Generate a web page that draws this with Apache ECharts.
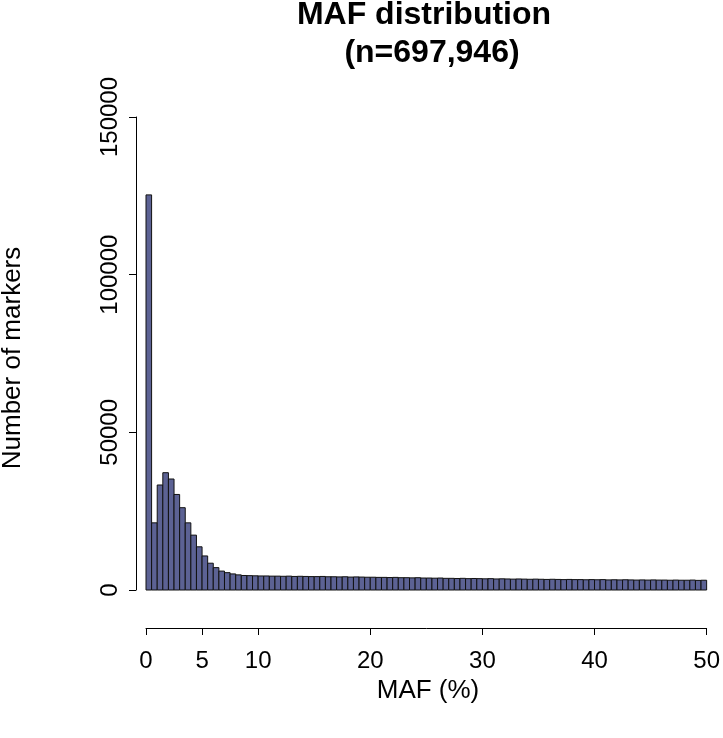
<!DOCTYPE html>
<html>
<head>
<meta charset="utf-8">
<script src="https://cdn.jsdelivr.net/npm/echarts@6/dist/echarts.min.js"></script>
<style>
html,body{margin:0;padding:0;background:#fff;}
#c{width:723px;height:738px;}
</style>
</head>
<body>
<div id="c"></div>
<script>
// Histogram of MAF (%), bins of width 0.5 from 0 to 50
var binWidth = 0.5;
var counts = [
  125300, 21300, 33300, 37200, 35200, 30300, 26100, 21300, 17400, 13700,
  10800, 8500, 7100, 6000, 5500, 5100, 4800,
  4600, 4550, 4500, 4450, 4450, 4400, 4400, 4350, 4400, 4300, 4350, 4300, 4250,
  4250, 4300, 4200, 4200, 4150, 4200, 4100, 4150, 4100, 4050,
  4050, 4000, 4000, 3950, 4000, 3900, 3900, 3850, 3900, 3800,
  3800, 3750, 3800, 3700, 3700, 3650, 3700, 3600, 3650, 3600,
  3550, 3600, 3500, 3550, 3500, 3450, 3500, 3450, 3400, 3450,
  3400, 3350, 3400, 3350, 3300, 3350, 3300, 3300, 3250, 3300,
  3250, 3300, 3200, 3250, 3200, 3250, 3200, 3150, 3200, 3150,
  3200, 3150, 3150, 3100, 3150, 3100, 3100, 3150, 3050, 3100
];
var xTicks = [0, 5, 10, 20, 30, 40, 50];
var titleLine1 = 'MAF distribution';
var titleLine2 = '(n=697,946)';
var xTitle = 'MAF (%)';
var yTitle = 'Number of markers';

var FONT = '"Liberation Sans", Arial, Helvetica, sans-serif';

var data = counts.map(function (c, i) {
  return [i * binWidth, (i + 1) * binWidth, c];
});

var chart = echarts.init(document.getElementById('c'), null, {renderer: 'canvas'});
chart.setOption({
  animation: false,
  backgroundColor: '#ffffff',
  grid: {left: 146, right: 13, top: 117, bottom: 148},
  xAxis: {
    type: 'value', min: 0, max: 50, offset: 38,
    axisLine: {show: true, onZero: false, lineStyle: {color: '#000', width: 1}},
    axisTick: {show: true, length: 7, customValues: xTicks, lineStyle: {color: '#000', width: 1}},
    axisLabel: {customValues: xTicks, fontSize: 24, color: '#000', fontFamily: FONT, margin: 21,
      formatter: function (v) { return String(v); }},
    splitLine: {show: false}
  },
  yAxis: {
    type: 'value', min: 0, max: 150000, interval: 50000, offset: 10,
    axisLine: {show: true, onZero: false, lineStyle: {color: '#000', width: 1}},
    axisTick: {show: true, length: 7, lineStyle: {color: '#000', width: 1}},
    axisLabel: {rotate: 90, fontSize: 24, color: '#000', fontFamily: FONT, margin: 14,
      formatter: function (v) { return String(v); }},
    splitLine: {show: false}
  },
  graphic: [
    {type: 'text', style: {text: titleLine1, x: 0, y: 0, font: 'bold 32px ' + FONT, fill: '#000', align: 'center', verticalAlign: 'middle'}, x: 424, y: 15, silent: true},
    {type: 'text', style: {text: titleLine2, x: 0, y: 0, font: 'bold 32px ' + FONT, fill: '#000', align: 'center', verticalAlign: 'middle'}, x: 432, y: 53, silent: true},
    {type: 'text', style: {text: xTitle, x: 0, y: 0, font: '26px ' + FONT, fill: '#000', align: 'center', verticalAlign: 'middle'}, x: 428, y: 691, silent: true},
    {type: 'text', style: {text: yTitle, x: 0, y: 0, font: '26px ' + FONT, fill: '#000', align: 'center', verticalAlign: 'middle'}, x: 13, y: 358, rotation: Math.PI / 2, silent: true}
  ],
  series: [{
    type: 'custom',
    data: data,
    encode: {x: [0, 1], y: 2},
    renderItem: function (params, api) {
      var p0 = api.coord([api.value(0), api.value(2)]);
      var p1 = api.coord([api.value(1), 0]);
      return {
        type: 'rect',
        shape: {x: p0[0], y: p0[1], width: p1[0] - p0[0], height: p1[1] - p0[1]},
        style: {fill: '#5c6294', stroke: '#111111', lineWidth: 1}
      };
    }
  }]
});
</script>
</body>
</html>
